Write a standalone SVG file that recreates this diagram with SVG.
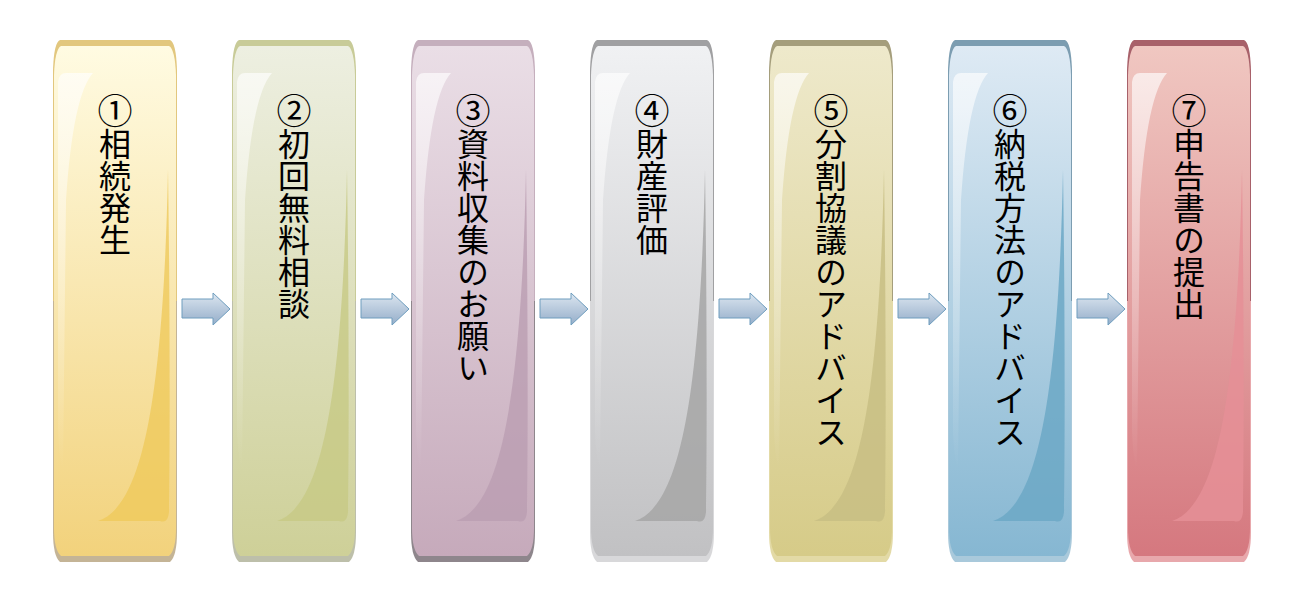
<svg xmlns="http://www.w3.org/2000/svg" width="1300" height="609" viewBox="0 0 1300 609">
<defs>
<style>
.lbl{font-family:"Noto Sans CJK JP","Noto Sans",sans-serif;font-size:32px;fill:#000;writing-mode:vertical-rl;text-anchor:start}
.num{font-size:35px}
.hl{fill:url(#hlg)}
.arr{fill:url(#ag);stroke:#6E9DBE;stroke-width:1}
</style>
<linearGradient id="hlg" x1="0" y1="0" x2="0" y2="1"><stop offset="0" stop-color="#fff" stop-opacity="0.65"/><stop offset="1" stop-color="#fff" stop-opacity="0"/></linearGradient>
<linearGradient id="ag" x1="0" y1="0" x2="0" y2="1"><stop offset="0" stop-color="#DCE6F0"/><stop offset="1" stop-color="#94ADC9"/></linearGradient>
<linearGradient id="o1" x1="0" y1="0" x2="0" y2="1"><stop offset=".5" stop-color="#E2C77E"/><stop offset=".5" stop-color="#C4B496"/></linearGradient>
<linearGradient id="b1" x1="0" y1="0" x2="0" y2="1"><stop offset="0" stop-color="#FFFBE2"/><stop offset="1" stop-color="#F2D27C"/></linearGradient>
<linearGradient id="o2" x1="0" y1="0" x2="0" y2="1"><stop offset=".5" stop-color="#C8CB98"/><stop offset=".5" stop-color="#BDBFAA"/></linearGradient>
<linearGradient id="b2" x1="0" y1="0" x2="0" y2="1"><stop offset="0" stop-color="#EDEFE1"/><stop offset="1" stop-color="#CED098"/></linearGradient>
<linearGradient id="o3" x1="0" y1="0" x2="0" y2="1"><stop offset=".5" stop-color="#C5AFBD"/><stop offset=".5" stop-color="#8E868C"/></linearGradient>
<linearGradient id="b3" x1="0" y1="0" x2="0" y2="1"><stop offset="0" stop-color="#EADEE6"/><stop offset="1" stop-color="#C6AABB"/></linearGradient>
<linearGradient id="o4" x1="0" y1="0" x2="0" y2="1"><stop offset=".5" stop-color="#A0A0A2"/><stop offset=".5" stop-color="#D8D8DA"/></linearGradient>
<linearGradient id="b4" x1="0" y1="0" x2="0" y2="1"><stop offset="0" stop-color="#F0F1F3"/><stop offset="1" stop-color="#C1C1C3"/></linearGradient>
<linearGradient id="o5" x1="0" y1="0" x2="0" y2="1"><stop offset=".5" stop-color="#A59E7C"/><stop offset=".5" stop-color="#E3DAA6"/></linearGradient>
<linearGradient id="b5" x1="0" y1="0" x2="0" y2="1"><stop offset="0" stop-color="#EEE9CB"/><stop offset="1" stop-color="#D6CB88"/></linearGradient>
<linearGradient id="o6" x1="0" y1="0" x2="0" y2="1"><stop offset=".5" stop-color="#7C9DB1"/><stop offset=".5" stop-color="#A9C9DB"/></linearGradient>
<linearGradient id="b6" x1="0" y1="0" x2="0" y2="1"><stop offset="0" stop-color="#DEEAF4"/><stop offset="1" stop-color="#86B7D2"/></linearGradient>
<linearGradient id="o7" x1="0" y1="0" x2="0" y2="1"><stop offset=".5" stop-color="#A8616A"/><stop offset=".5" stop-color="#E8A8AC"/></linearGradient>
<linearGradient id="b7" x1="0" y1="0" x2="0" y2="1"><stop offset="0" stop-color="#F0C7C1"/><stop offset="1" stop-color="#D5787F"/></linearGradient>
<path id="outer" d="M7,40 H117 Q123,42 124,70 V532 Q124,556 117,562 H7 Q0,556 0,532 V70 Q1,42 7,40 Z"/>
<path id="body" d="M8,46 H116 Q122,49 123,75 V528 Q123,550 116,556 H8 Q1,550 1,528 V75 Q2,49 8,46 Z"/>
<path id="hlp" d="M5,82 Q6,73 13,73 H40 Q20,95 13,200 L10,470 Q6,460 5,430 Z"/>
<path id="curl" d="M45,521 C85,508 110,420 115,170 C117,300 117,450 116,512 Q115,524 107,521 Z"/>
</defs>
<rect width="1300" height="609" fill="#fff"/>

<g id="step1" transform="translate(53,0)">
<use href="#outer" fill="url(#o1)"/><use href="#body" fill="url(#b1)"/><use href="#hlp" class="hl"/><use href="#curl" fill="#EFC95B" opacity="0.8"/>
<text class="lbl" x="62" y="93"><tspan class="num">①</tspan>相続発生</text>
</g>
<g id="step2" transform="translate(232,0)">
<use href="#outer" fill="url(#o2)"/><use href="#body" fill="url(#b2)"/><use href="#hlp" class="hl"/><use href="#curl" fill="#C7C984" opacity="0.8"/>
<text class="lbl" x="62" y="93"><tspan class="num">②</tspan>初回無料相談</text>
</g>
<g id="step3" transform="translate(411,0)">
<use href="#outer" fill="url(#o3)"/><use href="#body" fill="url(#b3)"/><use href="#hlp" class="hl"/><use href="#curl" fill="#BA9DB2" opacity="0.8"/>
<text class="lbl" x="62" y="93"><tspan class="num">③</tspan>資料収集のお願い</text>
</g>
<g id="step4" transform="translate(590,0)">
<use href="#outer" fill="url(#o4)"/><use href="#body" fill="url(#b4)"/><use href="#hlp" class="hl"/><use href="#curl" fill="#A6A6A6" opacity="0.85"/>
<text class="lbl" x="62" y="93"><tspan class="num">④</tspan>財産評価</text>
</g>
<g id="step5" transform="translate(769,0)">
<use href="#outer" fill="url(#o5)"/><use href="#body" fill="url(#b5)"/><use href="#hlp" class="hl"/><use href="#curl" fill="#C8BE84" opacity="0.85"/>
<text class="lbl" x="62" y="93"><tspan class="num">⑤</tspan>分割協議のアドバイス</text>
</g>
<g id="step6" transform="translate(948,0)">
<use href="#outer" fill="url(#o6)"/><use href="#body" fill="url(#b6)"/><use href="#hlp" class="hl"/><use href="#curl" fill="#6CA8C6" opacity="0.85"/>
<text class="lbl" x="62" y="93"><tspan class="num">⑥</tspan>納税方法のアドバイス</text>
</g>
<g id="step7" transform="translate(1127,0)">
<use href="#outer" fill="url(#o7)"/><use href="#body" fill="url(#b7)"/><use href="#hlp" class="hl"/><use href="#curl" fill="#E58F97" opacity="0.85"/>
<text class="lbl" x="62" y="93"><tspan class="num">⑦</tspan>申告書の提出</text>
</g>

<g id="connectors">
<path class="arr" d="M182,299 H213 V293 L230,309 L213,325 V318 H182 Z"/>
<path class="arr" d="M361,299 H392 V293 L409,309 L392,325 V318 H361 Z"/>
<path class="arr" d="M540,299 H571 V293 L588,309 L571,325 V318 H540 Z"/>
<path class="arr" d="M719,299 H750 V293 L767,309 L750,325 V318 H719 Z"/>
<path class="arr" d="M898,299 H929 V293 L946,309 L929,325 V318 H898 Z"/>
<path class="arr" d="M1077,299 H1108 V293 L1125,309 L1108,325 V318 H1077 Z"/>
</g>
</svg>
